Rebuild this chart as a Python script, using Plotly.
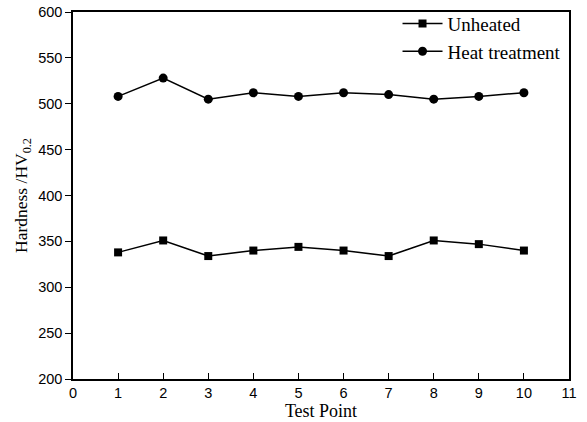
import plotly.graph_objects as go

test_points = [1, 2, 3, 4, 5, 6, 7, 8, 9, 10]
unheated = [338, 351, 334, 340, 344, 340, 334, 351, 347, 340]
heat_treatment = [508, 528, 505, 512, 508, 512, 510, 505, 508, 512]
x_ticks = list(range(0, 12))
y_ticks = list(range(200, 601, 50))

fig = go.Figure()
fig.add_trace(go.Scatter(
    x=test_points, y=unheated, name="Unheated", mode="lines+markers",
    line=dict(color="black", width=1.5),
    marker=dict(symbol="square", size=8, color="black"),
))
fig.add_trace(go.Scatter(
    x=test_points, y=heat_treatment, name="Heat treatment", mode="lines+markers",
    line=dict(color="black", width=1.5),
    marker=dict(symbol="circle", size=9, color="black"),
))

fig.update_layout(
    width=587, height=422,
    margin=dict(l=73, r=18, t=12, b=43, autoexpand=False),
    paper_bgcolor="white", plot_bgcolor="white",
    showlegend=True,
    legend=dict(x=0.995, xanchor="right", y=1.02, yanchor="top",
                bgcolor="rgba(0,0,0,0)",
                font=dict(family="Liberation Serif", size=19, color="black"),
                tracegroupgap=0, itemwidth=40),
    xaxis=dict(
        range=[0, 11], tickvals=x_ticks, ticks="inside", ticklen=6,
        tickwidth=1.2, tickcolor="black", automargin=False,
        showline=True, linecolor="black", linewidth=1.5, mirror=True,
        showgrid=False, zeroline=False,
        tickfont=dict(family="Liberation Sans", size=14.5, color="black"),
        title=dict(text="Test Point", standoff=0,
                   font=dict(family="Liberation Serif", size=18, color="black")),
    ),
    yaxis=dict(
        range=[200, 600], tickvals=y_ticks, ticks="outside", ticklen=6,
        tickwidth=1.2, tickcolor="black", automargin=False,
        showline=True, linecolor="black", linewidth=1.5, mirror=True,
        showgrid=False, zeroline=False,
        tickfont=dict(family="Liberation Sans", size=14.5, color="black"),
        title=dict(text="Hardness /HV<sub>0.2</sub>", standoff=6,
                   font=dict(family="Liberation Serif", size=17.5, color="black")),
    ),
)

fig.write_html("out.html", config={"displayModeBar": False},
               post_script="document.body.style.margin='0';")
